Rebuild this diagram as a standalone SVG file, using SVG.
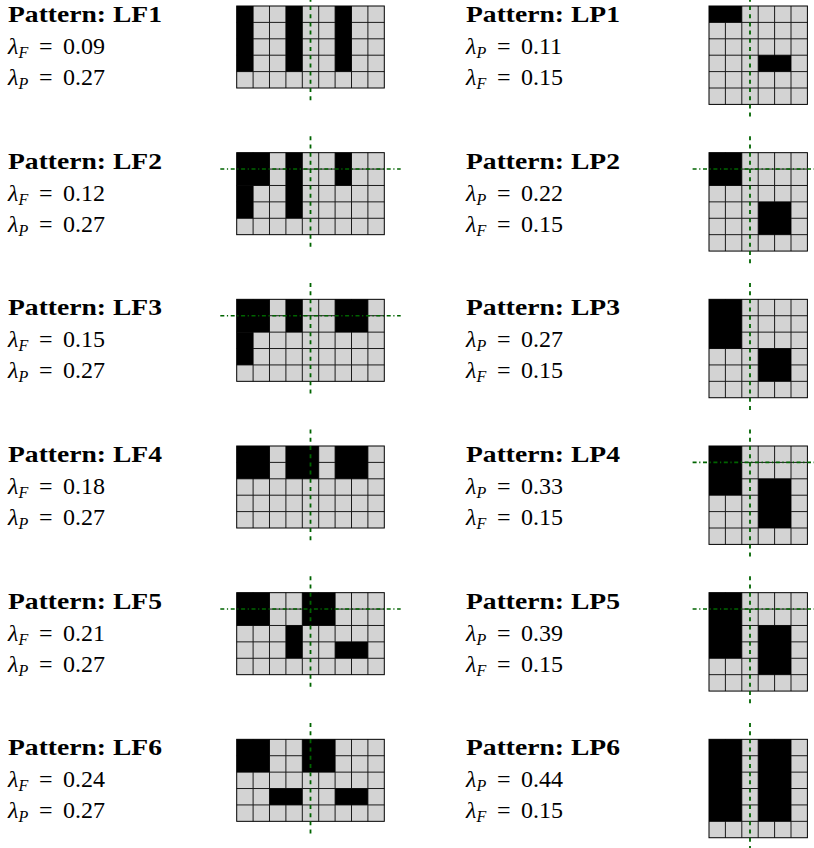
<svg xmlns="http://www.w3.org/2000/svg" width="814" height="848" viewBox="0 0 814 848">
<style>
.hd{font-family:"Liberation Serif",serif;font-weight:bold;font-size:23px;fill:#000}
.m{font-family:"Liberation Serif",serif;font-size:24px;fill:#000}
.it{font-style:italic}
.sb{font-size:16px;font-style:italic}
.bg{fill:#d3d3d3}
.blk{fill:#000}
.ln{fill:none;stroke:#1a1a1a;stroke-width:1}
.fr{fill:none;stroke:#000;stroke-width:1}
.vax{fill:none;stroke:#006400;stroke-width:1.8;stroke-dasharray:4 4.2}
.hax{fill:none;stroke:#006400;stroke-width:1.6;stroke-dasharray:4 2.6 1.2 2.6}
</style>
<defs>
  <!-- 9x5 cell grid (16.4 px cells): fill + inner lines, then frame on top of the black cells -->
  <g id="lfBg">
    <rect class="bg" width="147.6" height="82"/>
    <path class="ln" d="M16.4 0V82M32.8 0V82M49.2 0V82M65.6 0V82M82 0V82M98.4 0V82M114.8 0V82M131.2 0V82 M0 16.4H147.6M0 32.8H147.6M0 49.2H147.6M0 65.6H147.6"/>
  </g>
  <rect id="lfFrame" class="fr" width="147.6" height="82"/>
  <line id="lfV" class="vax" x1="73.8" y1="-16.4" x2="73.8" y2="98.4"/>
  <line id="lfH" class="hax" x1="-16.4" y1="16.4" x2="164" y2="16.4"/>
  <!-- 6x6 cell grid -->
  <g id="lpBg">
    <rect class="bg" width="98.4" height="98.4"/>
    <path class="ln" d="M16.4 0V98.4M32.8 0V98.4M49.2 0V98.4M65.6 0V98.4M82 0V98.4 M0 16.4H98.4M0 32.8H98.4M0 49.2H98.4M0 65.6H98.4M0 82H98.4"/>
  </g>
  <rect id="lpFrame" class="fr" width="98.4" height="98.4"/>
  <line id="lpV" class="vax" x1="41" y1="-16.4" x2="41" y2="114.8"/>
  <line id="lpH" class="hax" x1="-16.4" y1="16.4" x2="114.8" y2="16.4"/>
</defs>

<!-- left column: LF patterns -->
<g id="LF1">
  <text class="hd" x="8" y="22" textLength="154" lengthAdjust="spacingAndGlyphs">Pattern: LF1</text>
  <text class="m" x="8" y="54"><tspan class="it">λ</tspan><tspan class="sb" dy="4">F</tspan><tspan x="39" dy="-4">=</tspan><tspan x="63">0.09</tspan></text>
  <text class="m" x="8" y="85"><tspan class="it">λ</tspan><tspan class="sb" dy="4">P</tspan><tspan x="39" dy="-4">=</tspan><tspan x="63">0.27</tspan></text>
  <g transform="translate(236.7,6)">
    <use href="#lfBg"/>
    <g class="blk" transform="scale(16.4)"><rect x="0" y="0" width="1" height="4"/><rect x="3" y="0" width="1" height="4"/><rect x="6" y="0" width="1" height="4"/></g>
    <use href="#lfFrame"/>
    <use href="#lfV"/>
  </g>
</g>
<g id="LF2" transform="translate(0,146.67)">
  <text class="hd" x="8" y="22" textLength="154" lengthAdjust="spacingAndGlyphs">Pattern: LF2</text>
  <text class="m" x="8" y="54"><tspan class="it">λ</tspan><tspan class="sb" dy="4">F</tspan><tspan x="39" dy="-4">=</tspan><tspan x="63">0.12</tspan></text>
  <text class="m" x="8" y="85"><tspan class="it">λ</tspan><tspan class="sb" dy="4">P</tspan><tspan x="39" dy="-4">=</tspan><tspan x="63">0.27</tspan></text>
  <g transform="translate(236.7,6)">
    <use href="#lfBg"/>
    <g class="blk" transform="scale(16.4)"><rect x="0" y="0" width="2" height="2"/><rect x="0" y="2" width="1" height="2"/><rect x="3" y="0" width="1" height="4"/><rect x="6" y="0" width="1" height="2"/></g>
    <use href="#lfFrame"/>
    <use href="#lfV"/>
    <use href="#lfH"/>
  </g>
</g>
<g id="LF3" transform="translate(0,293.33)">
  <text class="hd" x="8" y="22" textLength="154" lengthAdjust="spacingAndGlyphs">Pattern: LF3</text>
  <text class="m" x="8" y="54"><tspan class="it">λ</tspan><tspan class="sb" dy="4">F</tspan><tspan x="39" dy="-4">=</tspan><tspan x="63">0.15</tspan></text>
  <text class="m" x="8" y="85"><tspan class="it">λ</tspan><tspan class="sb" dy="4">P</tspan><tspan x="39" dy="-4">=</tspan><tspan x="63">0.27</tspan></text>
  <g transform="translate(236.7,6)">
    <use href="#lfBg"/>
    <g class="blk" transform="scale(16.4)"><rect x="0" y="0" width="2" height="2"/><rect x="0" y="2" width="1" height="2"/><rect x="3" y="0" width="1" height="2"/><rect x="6" y="0" width="2" height="2"/></g>
    <use href="#lfFrame"/>
    <use href="#lfV"/>
    <use href="#lfH"/>
  </g>
</g>
<g id="LF4" transform="translate(0,440)">
  <text class="hd" x="8" y="22" textLength="154" lengthAdjust="spacingAndGlyphs">Pattern: LF4</text>
  <text class="m" x="8" y="54"><tspan class="it">λ</tspan><tspan class="sb" dy="4">F</tspan><tspan x="39" dy="-4">=</tspan><tspan x="63">0.18</tspan></text>
  <text class="m" x="8" y="85"><tspan class="it">λ</tspan><tspan class="sb" dy="4">P</tspan><tspan x="39" dy="-4">=</tspan><tspan x="63">0.27</tspan></text>
  <g transform="translate(236.7,6)">
    <use href="#lfBg"/>
    <g class="blk" transform="scale(16.4)"><rect x="0" y="0" width="2" height="2"/><rect x="3" y="0" width="2" height="2"/><rect x="6" y="0" width="2" height="2"/></g>
    <use href="#lfFrame"/>
    <use href="#lfV"/>
  </g>
</g>
<g id="LF5" transform="translate(0,586.67)">
  <text class="hd" x="8" y="22" textLength="154" lengthAdjust="spacingAndGlyphs">Pattern: LF5</text>
  <text class="m" x="8" y="54"><tspan class="it">λ</tspan><tspan class="sb" dy="4">F</tspan><tspan x="39" dy="-4">=</tspan><tspan x="63">0.21</tspan></text>
  <text class="m" x="8" y="85"><tspan class="it">λ</tspan><tspan class="sb" dy="4">P</tspan><tspan x="39" dy="-4">=</tspan><tspan x="63">0.27</tspan></text>
  <g transform="translate(236.7,6)">
    <use href="#lfBg"/>
    <g class="blk" transform="scale(16.4)"><rect x="0" y="0" width="2" height="2"/><rect x="4" y="0" width="2" height="2"/><rect x="3" y="2" width="1" height="2"/><rect x="6" y="3" width="2" height="1"/></g>
    <use href="#lfFrame"/>
    <use href="#lfV"/>
    <use href="#lfH"/>
  </g>
</g>
<g id="LF6" transform="translate(0,733.33)">
  <text class="hd" x="8" y="22" textLength="154" lengthAdjust="spacingAndGlyphs">Pattern: LF6</text>
  <text class="m" x="8" y="54"><tspan class="it">λ</tspan><tspan class="sb" dy="4">F</tspan><tspan x="39" dy="-4">=</tspan><tspan x="63">0.24</tspan></text>
  <text class="m" x="8" y="85"><tspan class="it">λ</tspan><tspan class="sb" dy="4">P</tspan><tspan x="39" dy="-4">=</tspan><tspan x="63">0.27</tspan></text>
  <g transform="translate(236.7,6)">
    <use href="#lfBg"/>
    <g class="blk" transform="scale(16.4)"><rect x="0" y="0" width="2" height="2"/><rect x="4" y="0" width="2" height="2"/><rect x="2" y="3" width="2" height="1"/><rect x="6" y="3" width="2" height="1"/></g>
    <use href="#lfFrame"/>
    <use href="#lfV"/>
  </g>
</g>

<!-- right column: LP patterns -->
<g id="LP1">
  <text class="hd" x="466" y="22" textLength="154" lengthAdjust="spacingAndGlyphs">Pattern: LP1</text>
  <text class="m" x="466" y="54"><tspan class="it">λ</tspan><tspan class="sb" dy="4">P</tspan><tspan x="497" dy="-4">=</tspan><tspan x="521">0.11</tspan></text>
  <text class="m" x="466" y="85"><tspan class="it">λ</tspan><tspan class="sb" dy="4">F</tspan><tspan x="497" dy="-4">=</tspan><tspan x="521">0.15</tspan></text>
  <g transform="translate(709,6)">
    <use href="#lpBg"/>
    <g class="blk" transform="scale(16.4)"><rect x="0" y="0" width="2" height="1"/><rect x="3" y="3" width="2" height="1"/></g>
    <use href="#lpFrame"/>
    <use href="#lpV"/>
  </g>
</g>
<g id="LP2" transform="translate(0,146.67)">
  <text class="hd" x="466" y="22" textLength="154" lengthAdjust="spacingAndGlyphs">Pattern: LP2</text>
  <text class="m" x="466" y="54"><tspan class="it">λ</tspan><tspan class="sb" dy="4">P</tspan><tspan x="497" dy="-4">=</tspan><tspan x="521">0.22</tspan></text>
  <text class="m" x="466" y="85"><tspan class="it">λ</tspan><tspan class="sb" dy="4">F</tspan><tspan x="497" dy="-4">=</tspan><tspan x="521">0.15</tspan></text>
  <g transform="translate(709,6)">
    <use href="#lpBg"/>
    <g class="blk" transform="scale(16.4)"><rect x="0" y="0" width="2" height="2"/><rect x="3" y="3" width="2" height="2"/></g>
    <use href="#lpFrame"/>
    <use href="#lpV"/>
    <use href="#lpH"/>
  </g>
</g>
<g id="LP3" transform="translate(0,293.33)">
  <text class="hd" x="466" y="22" textLength="154" lengthAdjust="spacingAndGlyphs">Pattern: LP3</text>
  <text class="m" x="466" y="54"><tspan class="it">λ</tspan><tspan class="sb" dy="4">P</tspan><tspan x="497" dy="-4">=</tspan><tspan x="521">0.27</tspan></text>
  <text class="m" x="466" y="85"><tspan class="it">λ</tspan><tspan class="sb" dy="4">F</tspan><tspan x="497" dy="-4">=</tspan><tspan x="521">0.15</tspan></text>
  <g transform="translate(709,6)">
    <use href="#lpBg"/>
    <g class="blk" transform="scale(16.4)"><rect x="0" y="0" width="2" height="3"/><rect x="3" y="3" width="2" height="2"/></g>
    <use href="#lpFrame"/>
    <use href="#lpV"/>
  </g>
</g>
<g id="LP4" transform="translate(0,440)">
  <text class="hd" x="466" y="22" textLength="154" lengthAdjust="spacingAndGlyphs">Pattern: LP4</text>
  <text class="m" x="466" y="54"><tspan class="it">λ</tspan><tspan class="sb" dy="4">P</tspan><tspan x="497" dy="-4">=</tspan><tspan x="521">0.33</tspan></text>
  <text class="m" x="466" y="85"><tspan class="it">λ</tspan><tspan class="sb" dy="4">F</tspan><tspan x="497" dy="-4">=</tspan><tspan x="521">0.15</tspan></text>
  <g transform="translate(709,6)">
    <use href="#lpBg"/>
    <g class="blk" transform="scale(16.4)"><rect x="0" y="0" width="2" height="3"/><rect x="3" y="2" width="2" height="3"/></g>
    <use href="#lpFrame"/>
    <use href="#lpV"/>
    <use href="#lpH"/>
  </g>
</g>
<g id="LP5" transform="translate(0,586.67)">
  <text class="hd" x="466" y="22" textLength="154" lengthAdjust="spacingAndGlyphs">Pattern: LP5</text>
  <text class="m" x="466" y="54"><tspan class="it">λ</tspan><tspan class="sb" dy="4">P</tspan><tspan x="497" dy="-4">=</tspan><tspan x="521">0.39</tspan></text>
  <text class="m" x="466" y="85"><tspan class="it">λ</tspan><tspan class="sb" dy="4">F</tspan><tspan x="497" dy="-4">=</tspan><tspan x="521">0.15</tspan></text>
  <g transform="translate(709,6)">
    <use href="#lpBg"/>
    <g class="blk" transform="scale(16.4)"><rect x="0" y="0" width="2" height="4"/><rect x="3" y="2" width="2" height="3"/></g>
    <use href="#lpFrame"/>
    <use href="#lpV"/>
    <use href="#lpH"/>
  </g>
</g>
<g id="LP6" transform="translate(0,733.33)">
  <text class="hd" x="466" y="22" textLength="154" lengthAdjust="spacingAndGlyphs">Pattern: LP6</text>
  <text class="m" x="466" y="54"><tspan class="it">λ</tspan><tspan class="sb" dy="4">P</tspan><tspan x="497" dy="-4">=</tspan><tspan x="521">0.44</tspan></text>
  <text class="m" x="466" y="85"><tspan class="it">λ</tspan><tspan class="sb" dy="4">F</tspan><tspan x="497" dy="-4">=</tspan><tspan x="521">0.15</tspan></text>
  <g transform="translate(709,6)">
    <use href="#lpBg"/>
    <g class="blk" transform="scale(16.4)"><rect x="0" y="0" width="2" height="5"/><rect x="3" y="0" width="2" height="5"/></g>
    <use href="#lpFrame"/>
    <use href="#lpV"/>
  </g>
</g>

<!-- no connectors between the patterns -->
<g id="connectors"/>
</svg>
